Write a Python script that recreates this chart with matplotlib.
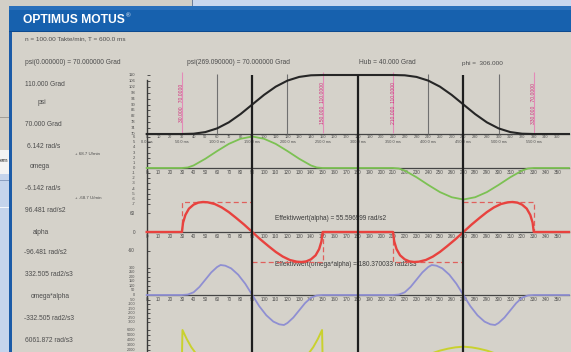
import matplotlib.pyplot as plt
from matplotlib.patches import Rectangle
from matplotlib.transforms import offset_copy

plt.rcParams['font.family'] = ['Liberation Sans', 'DejaVu Sans']

# ---- curve values (phi in degrees) ----
psi_deg = [0, 30, 40, 50, 60, 70, 80, 90, 100, 110, 120, 130, 140, 150,
           210, 220, 230, 240, 250, 260, 270, 280, 290, 300, 310, 320, 330, 360]
psi_val = [70, 70, 70.2, 71.3, 73.8, 77.9, 83.5, 90, 96.5, 102.1, 106.2, 108.7, 109.8, 110,
           110, 109.8, 108.7, 106.2, 102.1, 96.5, 90, 83.5, 77.9, 73.8, 71.3, 70.2, 70, 70]

omega_deg = [0, 30, 35, 40, 50, 60, 70, 80, 90, 100, 110, 120, 130, 140, 145, 150,
             210, 215, 220, 230, 240, 250, 260, 270, 280, 290, 300, 310, 320, 325, 330, 360]
omega_val = [0, 0, 0.1, 0.5, 1.8, 3.3, 4.7, 5.7, 6.142, 5.7, 4.7, 3.3, 1.8, 0.5, 0.1, 0,
             0, -0.1, -0.5, -1.8, -3.3, -4.7, -5.7, -6.142, -5.7, -4.7, -3.3, -1.8, -0.5, -0.1, 0, 0]

alpha_deg = [0, 30, 31, 33, 36, 40, 44, 48, 52, 58, 64, 70, 76, 83, 90, 97, 104, 110, 116, 122,
             128, 132, 136, 140, 144, 147, 149, 150,
             210, 211, 213, 216, 220, 224, 228, 232, 238, 244, 250, 256, 263, 270, 277, 284,
             290, 296, 302, 308, 312, 316, 320, 324, 327, 329, 330, 360]
alpha_val = [0, 0, 30, 55, 75, 88, 94.5, 96.5, 95.5, 90, 79, 64, 46, 24, 0, -24, -46, -64, -79, -90,
             -95.5, -96.5, -94.5, -88, -75, -55, -30, 0,
             0, -30, -55, -75, -88, -94.5, -96.5, -95.5, -90, -79, -64, -46, -24, 0, 24, 46,
             64, 79, 90, 95.5, 96.5, 94.5, 88, 75, 55, 30, 0, 0]

oa_deg = [0, 30, 35, 40, 45, 50, 55, 60, 63, 67, 72, 78, 84, 90, 96, 102, 108, 113, 117, 120,
          125, 130, 135, 140, 145, 150,
          210, 215, 220, 225, 230, 235, 240, 243, 247, 252, 258, 264, 270, 276, 282, 288,
          293, 297, 300, 305, 310, 315, 320, 325, 330, 360]
oa_val = [0, 0, 5, 30, 90, 170, 250, 310, 332.5, 325, 295, 225, 125, 0, -125, -225, -295, -325, -332.5, -310,
          -250, -170, -90, -30, -5, 0,
          0, 5, 30, 90, 170, 250, 310, 332.5, 325, 295, 225, 125, 0, -125, -225, -295,
          -325, -332.5, -310, -250, -170, -90, -30, -5, 0, 0]

jerk_deg = [0, 30, 30.5, 34, 38, 42, 48, 60, 75, 90, 105, 120, 132, 138, 142, 146, 149.5, 150,
            210, 210.5, 214, 218, 222, 228, 240, 250, 257, 263, 270, 277, 283, 290, 300, 312,
            318, 322, 326, 329.5, 330, 360]
jerk_val = [0, 0, 6062, 4300, 2600, 1300, 0, -1500, -2400, -2700, -2400, -1500, 0, 1300, 2600, 4300, 6062, 0,
            0, -6062, -4300, -2600, -1300, 0, 1100, 1900, 2300, 2550, 2700, 2550, 2300, 1900, 1100, 0,
            -1300, -2600, -4300, -6062, 0, 0]

# dashed envelope of alpha (max / min)
env_deg = [[30, 30, 90], [90, 150, 150], [210, 210, 270], [270, 330, 330]]
env_val = [[0, 96.481, 96.481], [-96.481, -96.481, 0], [0, -96.481, -96.481], [96.481, 96.481, 0]]

black_deg = [90, 180, 270]
grey_deg = [60, 120, 240, 300]
limit_deg = [30, 150, 210, 330]
limit_txt = ['30.000   70.0000', '150.000  110.0000', '210.000  110.0000', '330.000   70.0000']

psi_ticks = [110, 106, 102, 98, 94, 90, 86, 82, 78, 74, 70]
omega_ticks = [6, 5, 4, 3, 2, 1, 0, -1, -2, -3, -4, -5, -6, -7]
alpha_ticks = [60, 0, -60]
oa_ticks = [300, 250, 200, 150, 100, 50, 0, -50, -100, -150, -200, -250, -300]
jerk_ticks = [6000, 5000, 4000, 3000, 2000]
deg_ticks = list(range(0, 351, 10))
time_deg = [0, 30, 60, 90, 120, 150, 180, 210, 240, 270, 300, 330]
time_txt = ['0.0 ms', '50.0 ms', '100.0 ms', '150.0 ms', '200.0 ms', '250.0 ms', '300.0 ms',
            '350.0 ms', '400.0 ms', '450.0 ms', '500.0 ms', '550.0 ms']

left_txt = ['110.000 Grad', 'psi', '70.000 Grad', '6.142 rad/s', 'omega', '-6.142 rad/s',
            '96.481 rad/s2', 'alpha', '-96.481 rad/s2', '332.505 rad2/s3', 'omega*alpha',
            '-332.505 rad2/s3', '6061.872 rad/s3']
left_x = [25, 38, 25, 27, 30, 25, 25, 33, 24, 25, 31, 24, 25]
left_y = [84, 103, 124, 146, 167, 189, 211, 232, 253, 275, 297, 318, 340]

# ---- layout in pixels ----
W, H = 571, 352
X0 = 146.7     # column of phi = 0
PPD = 1.173    # pixels per degree
TXT = '#4c4c4c'

fig = plt.figure(figsize=(W / 100, H / 100), dpi=100)
fig.patch.set_facecolor('#d2cfc7')

bg = fig.add_axes([0, 0, 1, 1])
bg.set_xlim(0, W)
bg.set_ylim(H, 0)
bg.axis('off')


def rect(x, y, w, h, c):
    bg.add_patch(Rectangle((x, y), w, h, facecolor=c, edgecolor='none'))


# window behind (left strip / top)
rect(193, 0, W - 193, 6, '#c9d7ee')
rect(192, 0, 1.2, 6, '#6d7f9c')
rect(0, 117, 9, 1, '#a29e96')
rect(0, 150, 9, 24, '#f3f3f3')
rect(0, 174, 9, H - 174, '#c5d4ec')
rect(0, 180, 9, 0.8, '#8c9fc0')
rect(0, 207, 9, 1.3, '#f5f7fb')
bg.text(0, 161, 'em', fontsize=4.5, color='#333', va='center')

# header bar and panel
rect(9, 6, W - 9, 26, '#1761ae')
rect(9, 6, W - 9, 4, '#2a70bb')
rect(9, 31, W - 9, 1.2, '#0d4a8f')
rect(9, 32, 3, H - 32, '#1b5ba7')
rect(12, 32.5, W - 12, H - 32.5, '#d5d2ca')
bg.text(23, 20, 'OPTIMUS MOTUS', color='white', fontsize=8.7, weight='bold', va='center')
bg.text(126, 16, '®', color='white', fontsize=4.5, va='center')

bg.text(25, 38.5, 'n = 100.00 Takte/min, T = 600.0 ms', fontsize=4.6, color=TXT, va='center')
bg.text(25, 62, 'psi(0.000000) = 70.000000 Grad', fontsize=4.8, color=TXT, va='center')
bg.text(187, 62, 'psi(269.090000) = 70.000000 Grad', fontsize=4.8, color=TXT, va='center')
bg.text(359, 62, 'Hub = 40.000 Grad', fontsize=4.8, color=TXT, va='center')
bg.text(462, 63, 'phi =  306.000', fontsize=4.6, color=TXT, va='center')

for t, x, y in zip(left_txt, left_x, left_y):
    bg.text(x, y, t, fontsize=4.8, color=TXT, va='center')
bg.text(75, 154, '+ 68.7 U/min', fontsize=3.2, color=TXT, va='center')
bg.text(75, 198, '+ -68.7 U/min', fontsize=3.2, color=TXT, va='center')

# y axis line shared by all panels
bg.plot([X0, X0], [80, H], color='#3a3a3a', lw=1.0)

XL = (-X0 / PPD, (W - X0) / PPD)


def panel(y0, y1, va, pa, vb, pb):
    # axes over pixel rows y0..y1; value va sits on pixel row pa, vb on pb
    ax = fig.add_axes([0, 1 - y1 / H, 1, (y1 - y0) / H])
    k = (va - vb) / (pb - pa)
    ax.set_ylim(vb - (y1 - pb) * k, va + (pa - y0) * k)
    ax.set_xlim(*XL)
    ax.axis('off')
    return ax


def y_axis(ax, ticks, fs=3.0):
    ax.hlines(ticks, 0, 2.5, color='#3a3a3a', lw=0.6)
    for v in ticks:
        ax.text(-10, v, str(v), fontsize=fs, color=TXT, ha='right', va='center')


def x_axis(ax, base, dy=-4.5):
    ax.plot([0, 360], [base, base], color='#454545', lw=0.9, zorder=2)
    tr = offset_copy(ax.transData, fig=fig, x=0, y=dy, units='dots')
    for d in deg_ticks:
        ax.text(d, base, str(d), transform=tr, fontsize=3.3, color=TXT, ha='center', va='center')


ax_psi = panel(66, 150, 110, 75, 70, 134)
ax_om = panel(128, 212, 6.142, 136.5, -6.142, 199.5)
ax_al = panel(195, 272, 96.481, 202, -96.481, 262)
ax_oa = panel(258, 334, 332.505, 265, -332.505, 325)
ax_j = panel(322, 352, 6061.872, 330, 0, 360)

# psi
y_axis(ax_psi, psi_ticks)
ax_psi.plot([0, 360], [70, 70], color='#454545', lw=0.9)
tr1 = offset_copy(ax_psi.transData, fig=fig, x=0, y=-3.5, units='dots')
tr2 = offset_copy(ax_psi.transData, fig=fig, x=0, y=-8, units='dots')
for d in deg_ticks:
    ax_psi.text(d, 70, str(d), transform=tr1, fontsize=2.8, color=TXT, ha='center', va='center')
for d, t in zip(time_deg, time_txt):
    ax_psi.text(d, 70, t, transform=tr2, fontsize=2.8, color=TXT, ha='center', va='center')
ax_psi.vlines(grey_deg, 70, 110.5, color='#707070', lw=0.8)
for d, t in zip(limit_deg, limit_txt):
    ax_psi.vlines(d, 71, 112, color='#e48ab8', lw=0.8)
    ax_psi.text(d, 91, t, rotation=90, fontsize=3.6, color='#d0307c', ha='center', va='center')
ax_psi.plot(psi_deg, psi_val, color='#262626', lw=1.5, zorder=3)

# omega
y_axis(ax_om, omega_ticks)
x_axis(ax_om, 0)
ax_om.plot(omega_deg, omega_val, color='#7cc153', lw=1.3, zorder=3)

# alpha
y_axis(ax_al, alpha_ticks, fs=3.4)
x_axis(ax_al, 0)
for dd, vv in zip(env_deg, env_val):
    ax_al.plot(dd, vv, color='#e0605c', lw=0.9, ls=(0, (4, 2.5)))
ax_al.plot(alpha_deg, alpha_val, color='#e8423e', lw=1.7, zorder=3)
bg.text(275, 219, 'Effektivwert(alpha) = 55.596999 rad/s2', fontsize=4.7, color='#3a3a3a', va='center')

# omega*alpha
y_axis(ax_oa, oa_ticks, fs=2.7)
x_axis(ax_oa, 0)
ax_oa.plot(oa_deg, oa_val, color='#8f8fd2', lw=1.3, zorder=3)
bg.text(275, 264.5, 'Effektivwert(omega*alpha) = 180.370033 rad2/s3', fontsize=4.7, color='#3a3a3a', va='center')

# jerk
y_axis(ax_j, jerk_ticks, fs=2.7)
ax_j.plot(jerk_deg, jerk_val, color='#c9d12e', lw=1.4, zorder=3)

# black phi markers through all panels
ov = fig.add_axes([0, 0, 1, 1])
ov.set_xlim(*XL)
ov.set_ylim(H, 0)
ov.axis('off')
ov.vlines(black_deg, 75, H, color='#1e1e1e', lw=1.6)

fig.savefig('out.png', dpi=100, facecolor=fig.get_facecolor())
